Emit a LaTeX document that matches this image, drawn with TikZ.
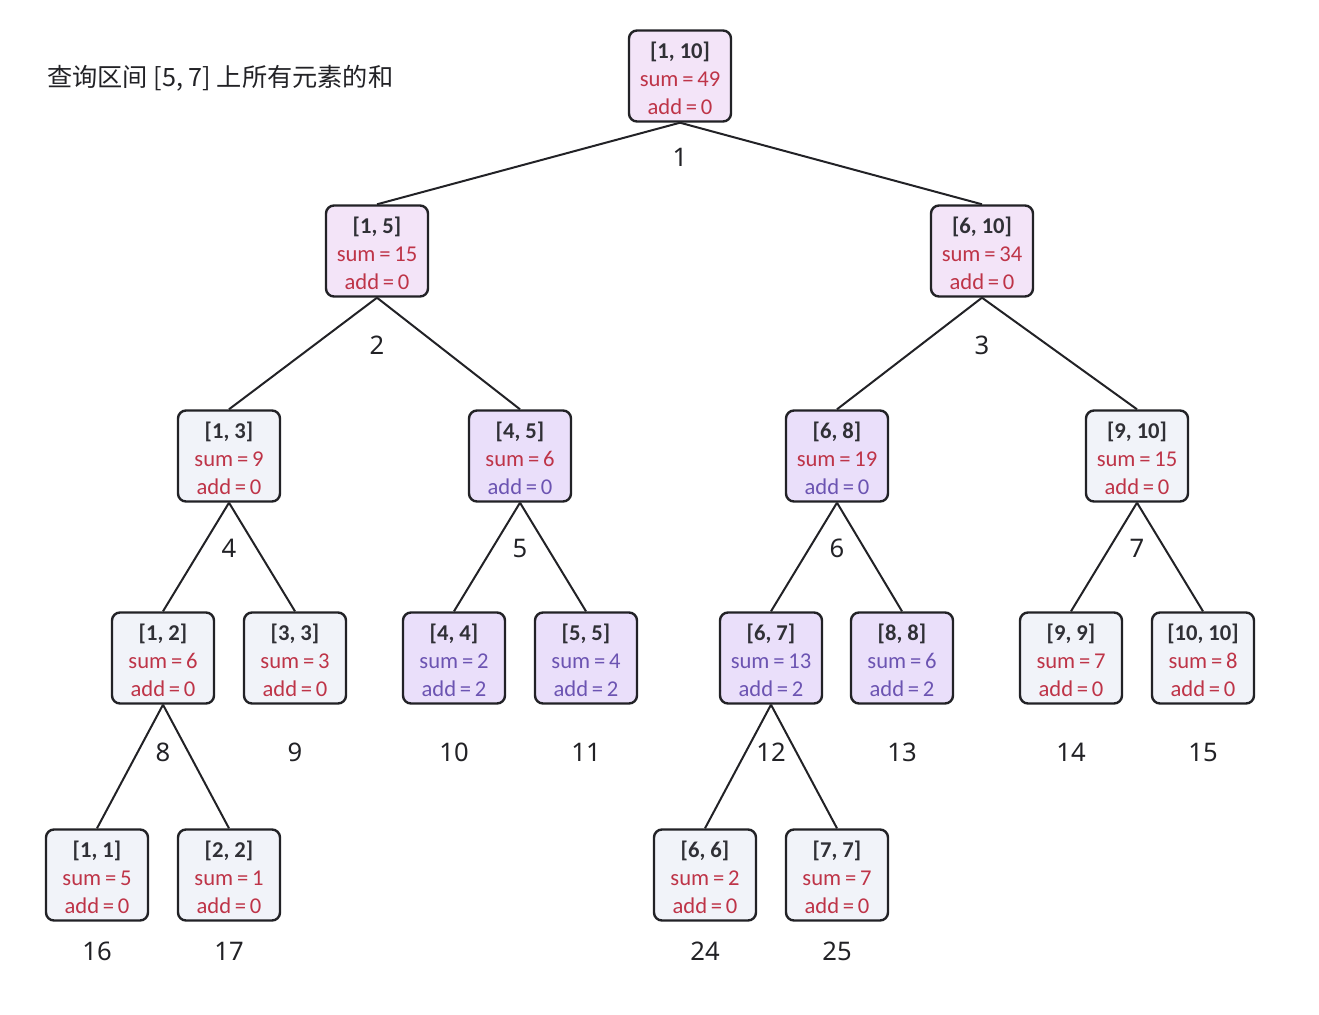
\documentclass[tikz,border=0pt]{standalone}
\usepackage{fontspec}
\setmainfont{Carlito}
\newfontfamily\cjk{Noto Sans CJK SC}
\newfontfamily\numfont{Noto Sans}
\usetikzlibrary{positioning}
\definecolor{ink}{RGB}{34, 34, 38}
\definecolor{ivtext}{RGB}{48, 48, 54}
\definecolor{sumred}{RGB}{190, 52, 72}
\definecolor{lazyvio}{RGB}{108, 84, 178}
\definecolor{plain}{RGB}{241, 243, 249}
\definecolor{visited}{RGB}{243, 228, 248}
\definecolor{tagged}{RGB}{234, 223, 250}
% interval line of a node
\newcommand{\ivl}[1]{\rule{0pt}{11pt}\textcolor{ivtext}{\textbf{#1}}}

\begin{document}
\begin{tikzpicture}[
            x=0.5pt, y=-0.5pt,
            seg/.style={rectangle, rounded corners=4pt, draw=ink, line width=1.2pt, fill=plain, minimum width=51pt, minimum height=45.5pt, inner sep=1pt, align=center, font=\fontsize{11.3}{14}\selectfont, text=sumred},
            visit/.style={seg, fill=visited},
            lazy/.style={seg, fill=tagged},
            idx/.style={font=\numfont\fontsize{12.8}{14}\selectfont, text=ink},
            edge/.style={ink, line width=1pt}
        ]
            \useasboundingbox (0,0) rectangle (1319,1014);
            % Title
            \node[anchor=west, font=\cjk\fontsize{12.6}{15}\selectfont, text=ink] (title) at (40,78) {查询区间 [5, 7] 上所有元素的和};

            % Segment nodes
            \node[visit] (s1) at (680,76) {\ivl{[1, 10]}\\sum\,=\,49\\add\,=\,0};
            \node[visit] (s2) at (377,251) {\ivl{[1, 5]}\\sum\,=\,15\\add\,=\,0};
            \node[visit] (s3) at (982,251) {\ivl{[6, 10]}\\sum\,=\,34\\add\,=\,0};
            \node[seg] (s4) at (229,456) {\ivl{[1, 3]}\\sum\,=\,9\\add\,=\,0};
            \node[lazy] (s5) at (520,456) {\ivl{[4, 5]}\\sum\,=\,6\\\textcolor{lazyvio}{add\,=\,0}};
            \node[lazy] (s6) at (837,456) {\ivl{[6, 8]}\\sum\,=\,19\\\textcolor{lazyvio}{add\,=\,0}};
            \node[seg] (s7) at (1137,456) {\ivl{[9, 10]}\\sum\,=\,15\\add\,=\,0};
            \node[seg] (s8) at (163,658) {\ivl{[1, 2]}\\sum\,=\,6\\add\,=\,0};
            \node[seg] (s9) at (295,658) {\ivl{[3, 3]}\\sum\,=\,3\\add\,=\,0};
            \node[lazy, text=lazyvio] (s10) at (454,658) {\ivl{[4, 4]}\\sum\,=\,2\\add\,=\,2};
            \node[lazy, text=lazyvio] (s11) at (586,658) {\ivl{[5, 5]}\\sum\,=\,4\\add\,=\,2};
            \node[lazy, text=lazyvio] (s12) at (771,658) {\ivl{[6, 7]}\\sum\,=\,13\\add\,=\,2};
            \node[lazy, text=lazyvio] (s13) at (902,658) {\ivl{[8, 8]}\\sum\,=\,6\\add\,=\,2};
            \node[seg] (s14) at (1071,658) {\ivl{[9, 9]}\\sum\,=\,7\\add\,=\,0};
            \node[seg] (s15) at (1203,658) {\ivl{[10, 10]}\\sum\,=\,8\\add\,=\,0};
            \node[seg] (s16) at (97,875) {\ivl{[1, 1]}\\sum\,=\,5\\add\,=\,0};
            \node[seg] (s17) at (229,875) {\ivl{[2, 2]}\\sum\,=\,1\\add\,=\,0};
            \node[seg] (s24) at (705,875) {\ivl{[6, 6]}\\sum\,=\,2\\add\,=\,0};
            \node[seg] (s25) at (837,875) {\ivl{[7, 7]}\\sum\,=\,7\\add\,=\,0};

            % Index labels
            \node[idx] (i1) at (680,157) {1};
            \node[idx] (i2) at (377,345) {2};
            \node[idx] (i3) at (982,345) {3};
            \node[idx] (i4) at (229,548) {4};
            \node[idx] (i5) at (520,548) {5};
            \node[idx] (i6) at (837,548) {6};
            \node[idx] (i7) at (1137,548) {7};
            \node[idx] (i8) at (163,752) {8};
            \node[idx] (i9) at (295,752) {9};
            \node[idx] (i10) at (454,752) {10};
            \node[idx] (i11) at (586,752) {11};
            \node[idx] (i12) at (771,752) {12};
            \node[idx] (i13) at (902,752) {13};
            \node[idx] (i14) at (1071,752) {14};
            \node[idx] (i15) at (1203,752) {15};
            \node[idx] (i16) at (97,951) {16};
            \node[idx] (i17) at (229,951) {17};
            \node[idx] (i24) at (705,951) {24};
            \node[idx] (i25) at (837,951) {25};

            % Edges
            \draw[edge] (s1.south) -- (s2.north);
            \draw[edge] (s1.south) -- (s3.north);
            \draw[edge] (s2.south) -- (s4.north);
            \draw[edge] (s2.south) -- (s5.north);
            \draw[edge] (s3.south) -- (s6.north);
            \draw[edge] (s3.south) -- (s7.north);
            \draw[edge] (s4.south) -- (s8.north);
            \draw[edge] (s4.south) -- (s9.north);
            \draw[edge] (s5.south) -- (s10.north);
            \draw[edge] (s5.south) -- (s11.north);
            \draw[edge] (s6.south) -- (s12.north);
            \draw[edge] (s6.south) -- (s13.north);
            \draw[edge] (s7.south) -- (s14.north);
            \draw[edge] (s7.south) -- (s15.north);
            \draw[edge] (s8.south) -- (s16.north);
            \draw[edge] (s8.south) -- (s17.north);
            \draw[edge] (s12.south) -- (s24.north);
            \draw[edge] (s12.south) -- (s25.north);
        \end{tikzpicture}
\end{document}
